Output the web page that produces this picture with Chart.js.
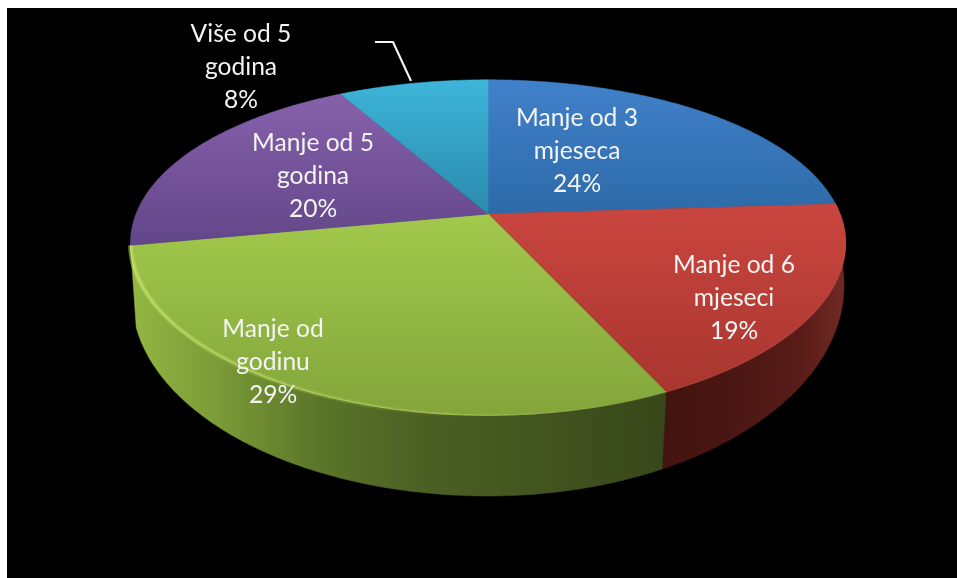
<!DOCTYPE html>
<html>
<head>
<meta charset="utf-8">
<style>
html,body{margin:0;padding:0;background:#fff;overflow:hidden}
canvas{display:block;filter:blur(0.6px)}
</style>
<script src="https://cdn.jsdelivr.net/npm/chart.js@4"></script>
</head>
<body>
<canvas id="c" width="957" height="578"></canvas>
<script>
// ---- data ----
const categories = ["Manje od 3 mjeseca", "Manje od 6 mjeseci", "Manje od godinu", "Manje od 5 godina", "Više od 5 godina"];
const values = [24, 19, 29, 20, 8];
const labelLines = [["Manje od 3", "mjeseca"], ["Manje od 6", "mjeseci"], ["Manje od", "godinu"], ["Manje od 5", "godina"], ["Više od 5", "godina"]];

// ---- styles ----
const faceStops = [
  {y0:80, y1:214, c0:"#4181ca", c1:"#2c6aa8"},
  {y0:205,y1:392, c0:"#c9463f", c1:"#a8362f"},
  {y0:215,y1:414, c0:"#a2c94c", c1:"#83a53b"},
  {y0:95, y1:243, c0:"#8661ab", c1:"#63468a"},
  {y0:80, y1:214, c0:"#3db5d9", c1:"#2a8aac"}
];
const sideStops = [
  null,
  [[663,"#421410"],[740,"#4c1714"],[800,"#591c18"],[848,"#742a25"]],
  [[130,"#94b744"],[220,"#7a9a37"],[320,"#5a7528"],[420,"#4c6024"],[663,"#38481a"]],
  null,
  null
];
const labelCenters = [[577,118],[734,265],[273,329],[313,143],[241,34]];
const lineGap = 33;

// ---- oblique projection of the pie ----
const top3d = t => { const X=Math.sin(t), Y=-Math.cos(t); return [488+352*X/(1-0.175*Y), 214+161*Y/(1-0.2*Y)]; };
const bot3d = t => {
  const p=t+0.0925*Math.sin(2*t);
  const right=Math.sin(p)>=0;
  return [488+356*Math.sin(p), (right?285:297)-(right?211:199)*Math.cos(p)];
};
const rimPts = (fn,a,b) => { const n=Math.max(2,Math.ceil(Math.abs(b-a)/0.01)), r=[]; for(let i=0;i<=n;i++) r.push(fn(a+(b-a)*i/n)); return r; };
const tracePts = (ctx,pts,first) => pts.forEach((p,i)=> (first&&i===0)?ctx.moveTo(p[0],p[1]):ctx.lineTo(p[0],p[1]));

const pie3d = {
  id:"pie3d",
  beforeDraw(chart){
    const {ctx} = chart;
    ctx.save();
    ctx.fillStyle="#000";
    ctx.fillRect(7,8,950,570);
    ctx.restore();
  },
  beforeDatasetsDraw(chart){
    const {ctx} = chart;
    const arcs = chart.getDatasetMeta(0).data;
    const norm = a => a + Math.PI/2; // chart.js angle to clockwise-from-top angle
    const spans = arcs.map(a=>[norm(a.startAngle), norm(a.endAngle)]);
    ctx.save();
    // side walls
    spans.forEach((s,i)=>{
      if(!sideStops[i]) return;
      const g=ctx.createLinearGradient(130,0,848,0);
      sideStops[i].forEach(st=>g.addColorStop((st[0]-130)/718,st[1]));
      const a=Math.max(s[0],Math.PI*0.3), b=Math.min(s[1],Math.PI*1.7);
      ctx.beginPath();
      tracePts(ctx,rimPts(top3d,a,b),true);
      tracePts(ctx,rimPts(bot3d,b,a),false);
      ctx.closePath();
      ctx.fillStyle=g; ctx.fill();
      ctx.strokeStyle=g; ctx.lineWidth=0.5; ctx.stroke();
    });
    // top faces
    spans.forEach((s,i)=>{
      const f=faceStops[i];
      const g=ctx.createLinearGradient(0,f.y0,0,f.y1);
      g.addColorStop(0,f.c0); g.addColorStop(1,f.c1);
      ctx.beginPath();
      ctx.moveTo(488,214);
      tracePts(ctx,rimPts(top3d,s[0],s[1]),false);
      ctx.closePath();
      ctx.fillStyle=g; ctx.fill();
      ctx.strokeStyle=g; ctx.lineWidth=0.6; ctx.stroke();
    });
    // bevel highlight on the front rim
    const wide=ctx.createLinearGradient(130,0,480,0);
    wide.addColorStop(0,"rgba(190,222,100,0.5)");
    wide.addColorStop(0.45,"rgba(180,212,90,0.25)");
    wide.addColorStop(1,"rgba(170,200,85,0)");
    ctx.beginPath();
    tracePts(ctx,rimPts(top3d,spans[2][0],spans[2][1]),true);
    ctx.strokeStyle=wide; ctx.lineWidth=5; ctx.stroke();
    const hg=ctx.createLinearGradient(130,0,660,0);
    hg.addColorStop(0,"rgba(205,232,120,0.7)");
    hg.addColorStop(0.6,"rgba(190,220,100,0.55)");
    hg.addColorStop(1,"rgba(165,195,85,0.2)");
    ctx.beginPath();
    tracePts(ctx,rimPts(top3d,spans[2][0],spans[2][1]),true);
    ctx.strokeStyle=hg; ctx.lineWidth=1.4; ctx.stroke();
    ctx.beginPath();
    tracePts(ctx,rimPts(top3d,spans[1][0],spans[1][1]),true);
    ctx.strokeStyle="rgba(215,100,90,0.3)"; ctx.lineWidth=1.2; ctx.stroke();
    // leader line
    ctx.beginPath();
    ctx.moveTo(375,42); ctx.lineTo(393,42); ctx.lineTo(411,81);
    ctx.strokeStyle="#f4f4f4"; ctx.lineWidth=2.1; ctx.lineJoin="round"; ctx.stroke();
    // labels
    ctx.fillStyle="#f4f4f4";
    ctx.font="24.6px Lato, 'Open Sans', sans-serif";
    ctx.textAlign="center"; ctx.textBaseline="middle";
    const total=values.reduce((x,y)=>x+y,0);
    labelLines.forEach((lines,i)=>{
      const [cx,cy]=labelCenters[i];
      const all=lines.concat([Math.round(values[i]/total*100)+"%"]);
      all.forEach((t,j)=>ctx.fillText(t,cx,cy+j*lineGap));
    });
    ctx.restore();
    return false;
  }
};

new Chart(document.getElementById("c"),{
  type:"pie",
  data:{labels:categories,datasets:[{data:values,backgroundColor:faceStops.map(f=>f.c0),borderWidth:0}]},
  options:{
    responsive:false,animation:false,
    plugins:{legend:{display:false},tooltip:{enabled:false}}
  },
  plugins:[pie3d]
});
</script>
</body>
</html>
